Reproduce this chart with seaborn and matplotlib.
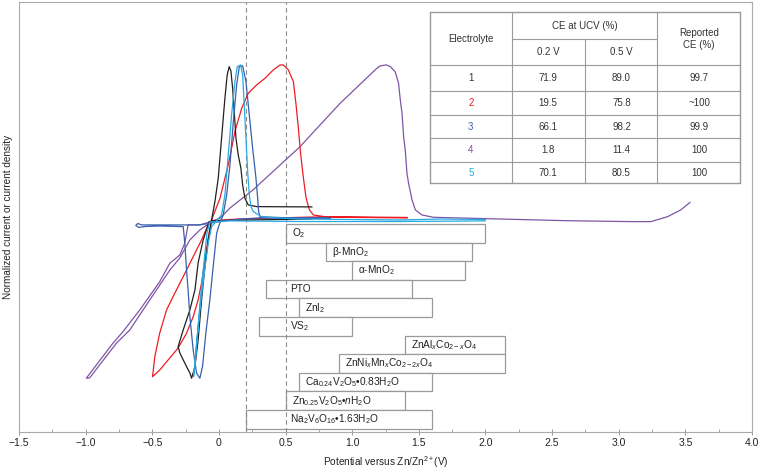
import matplotlib
matplotlib.use('Agg')
import matplotlib.pyplot as plt
import pandas as pd
import seaborn as sns

# CV curves: potential (V vs Zn/Zn2+) and normalized current
v1 = [0.699, 0.459, 0.233, 0.045, -0.053, -0.075, -0.118, -0.156, -0.180, -0.218, -0.268, -0.306, -0.293,
      -0.243, -0.218, -0.205, -0.180, -0.156, -0.130, -0.105, -0.080, -0.055, -0.030, -0.005, 0.020, 0.045,
      0.062, 0.077, 0.090, 0.103, 0.115, 0.128, 0.145, 0.165, 0.178, 0.195, 0.220, 0.283, 0.699]
i1 = [0.006, 0.003, 0.0, -0.003, -0.006, -0.013, -0.129, -0.277, -0.452, -0.581, -0.710, -0.817, -0.858,
      -0.946, -0.987, -1.021, -0.946, -0.774, -0.516, -0.301, -0.129, 0.0, 0.118, 0.269, 0.527, 0.785,
      0.935, 0.989, 0.961, 0.850, 0.699, 0.527, 0.419, 0.334, 0.226, 0.140, 0.097, 0.086, 0.084]

v2 = [1.414, 1.060, 0.707, 0.308, 0.083, -0.053, -0.073, -0.130, -0.193, -0.268, -0.344, -0.393, -0.444,
      -0.481, -0.498, -0.444, -0.368, -0.306, -0.243, -0.193, -0.156, -0.130, -0.105, -0.080, -0.055, 0.008,
      0.070, 0.120, 0.171, 0.220, 0.283, 0.346, 0.408, 0.459, 0.483, 0.521, 0.559, 0.579, 0.596, 0.614,
      0.634, 0.654, 0.679, 0.709, 0.797, 1.060, 1.414]
i2 = [0.013, 0.016, 0.019, 0.010, 0.003, -0.006, -0.017, -0.129, -0.237, -0.366, -0.495, -0.581, -0.729,
      -0.882, -1.011, -0.968, -0.890, -0.826, -0.731, -0.624, -0.516, -0.406, -0.258, -0.116, 0.0, 0.140,
      0.355, 0.570, 0.721, 0.817, 0.871, 0.914, 0.968, 1.0, 1.0, 0.968, 0.892, 0.742, 0.594, 0.419,
      0.271, 0.142, 0.065, 0.032, 0.021, 0.019, 0.016]

v3 = [0.835, 0.534, 0.308, 0.158, 0.008, -0.143, -0.444, -0.579, -0.609, -0.624, -0.602, -0.549, -0.444,
      -0.268, -0.256, -0.243, -0.231, -0.218, -0.193, -0.168, -0.143, -0.123, -0.098, -0.068, -0.043,
      -0.017, 0.002, 0.032, 0.058, 0.083, 0.108, 0.133, 0.153, 0.178, 0.203, 0.228, 0.253, 0.278, 0.291,
      0.298, 0.308, 0.534, 0.835]
i3 = [0.010, 0.010, 0.013, 0.006, -0.010, -0.032, -0.032, -0.032, -0.023, -0.035, -0.048, -0.042, -0.039,
      -0.043, -0.148, -0.323, -0.452, -0.624, -0.839, -0.987, -1.021, -0.946, -0.729, -0.516, -0.301,
      -0.086, -0.032, 0.032, 0.161, 0.355, 0.634, 0.871, 0.989, 0.995, 0.892, 0.677, 0.463, 0.269, 0.140,
      0.054, 0.021, 0.013, 0.013]

v4 = [3.536, 3.466, 3.366, 3.241, 3.115, 2.614, 2.113, 1.611, 1.524, 1.474, 1.449, 1.423, 1.411, 1.398,
      1.386, 1.374, 1.361, 1.348, 1.323, 1.286, 1.256, 1.211, 1.186, 0.910, 0.759, 0.609, 0.256, 0.083,
      0.008, -0.068, -0.143, -0.231, -0.243, -0.256, -0.293, -0.368, -0.444, -0.594, -0.720, -0.795,
      -0.995, -0.970, -0.769, -0.669, -0.519, -0.368, -0.293, -0.218, -0.143, -0.068]
i4 = [0.114, 0.065, 0.021, -0.011, -0.011, -0.005, 0.006, 0.017, 0.032, 0.065, 0.129, 0.237, 0.301, 0.452,
      0.537, 0.688, 0.774, 0.882, 0.955, 0.990, 1.0, 0.994, 0.979, 0.753, 0.613, 0.473, 0.194, 0.077,
      0.011, -0.013, -0.032, -0.032, -0.086, -0.150, -0.226, -0.279, -0.398, -0.581, -0.721, -0.795,
      -1.021, -1.019, -0.795, -0.710, -0.516, -0.323, -0.245, -0.129, -0.065, -0.019]

v5 = [2.0, 1.662, 1.361, 0.985, 0.609, 0.323, 0.258, 0.241, 0.228, 0.216, 0.203, 0.190, 0.178, 0.163,
      0.138, 0.120, 0.095, 0.070, 0.045, 0.020, -0.055, -0.080, -0.110, -0.140, -0.165, -0.182, -0.190,
      -0.175, -0.160, -0.140, -0.115, -0.090, -0.068, 0.083, 0.609, 1.361, 2.0]
i5 = [0.003, 0.006, 0.0, 0.003, 0.006, 0.019, 0.054, 0.086, 0.161, 0.312, 0.527, 0.742, 0.935, 1.0,
      0.989, 0.892, 0.677, 0.419, 0.161, 0.032, -0.043, -0.148, -0.342, -0.559, -0.774, -0.946, -1.011,
      -0.882, -0.729, -0.516, -0.301, -0.086, -0.013, -0.006, -0.010, -0.010, -0.006]

# cathode working windows (V)
materials = ['O$_2$', 'β-MnO$_2$', 'α-MnO$_2$', 'PTO', 'ZnI$_2$', 'VS$_2$',
             'ZnAl$_\\mathit{x}$Co$_{2-\\mathit{x}}$O$_4$',
             'ZnNi$_\\mathit{x}$Mn$_\\mathit{x}$Co$_{2-2\\mathit{x}}$O$_4$',
             'Ca$_{0.24}$V$_2$O$_5$•0.83H$_2$O',
             'Zn$_{0.25}$V$_2$O$_5$•$\\mathit{n}$H$_2$O',
             'Na$_2$V$_6$O$_{16}$•1.63H$_2$O']
win_start = [0.5, 0.8, 1.0, 0.35, 0.6, 0.3, 1.4, 0.9, 0.6, 0.5, 0.2]
win_end = [2.0, 1.9, 1.85, 1.45, 1.6, 1.0, 2.15, 2.15, 1.6, 1.4, 1.6]

# inset table
electrolytes = ['1', '2', '3', '4', '5']
ce_02 = ['71.9', '19.5', '66.1', '1.8', '70.1']
ce_05 = ['89.0', '75.8', '98.2', '11.4', '80.5']
ce_reported = ['99.7', '~100', '99.9', '100', '100']

ucv_lines = [0.2, 0.5]
xticks = [-1.5, -1.0, -0.5, 0, 0.5, 1.0, 1.5, 2.0, 2.5, 3.0, 3.5, 4.0]

colors = {'1': '#231f20', '2': '#ed1c24', '3': '#3a5fae', '4': '#7f55a5', '5': '#27aae1'}
curves = {'4': (v4, i4), '2': (v2, i2), '1': (v1, i1), '3': (v3, i3), '5': (v5, i5)}

sns.set_theme(style='white')
plt.rcParams['font.family'] = ['Liberation Sans', 'DejaVu Sans']
plt.rcParams['mathtext.fontset'] = 'custom'
plt.rcParams['mathtext.rm'] = 'Liberation Sans'
plt.rcParams['mathtext.it'] = 'Liberation Sans:italic'
plt.rcParams['mathtext.default'] = 'regular'

fig = plt.figure(figsize=(7.6, 4.72), dpi=100)
ax = fig.add_axes([19 / 760, 40 / 472, 733 / 760, 430 / 472])

for key, (v, i) in curves.items():
    df = pd.DataFrame({'V': v, 'I': i})
    sns.lineplot(data=df, x='V', y='I', sort=False, estimator=None, color=colors[key],
                 lw=0.9, ax=ax, zorder=4)

# stability window bars
bar_h = 0.12
centers = [-0.086 - bar_h * k for k in range(len(materials))]
widths = [e - s for s, e in zip(win_start, win_end)]
ax.barh(centers, widths, left=win_start, height=bar_h, color='white',
        edgecolor='#9a9a9a', lw=0.9, zorder=2)
for name, s, c in zip(materials, win_start, centers):
    ax.text(max(s, 0.49) + 0.045, c, name, fontsize=7.3, color='#222222',
            ha='left', va='center', zorder=5)

for xv in ucv_lines:
    ax.axvline(xv, color='#8c8c8c', ls=(0, (4, 3)), lw=0.8, zorder=3)

ax.set_xlim(-1.5, 4.0)
ax.set_ylim(-1.368, 1.406)
ax.set_xticks(xticks)
ax.set_xticklabels([('%g' % t if t == 0 else '%.1f' % t).replace('-', '\u2212') for t in xticks])
ax.set_xticks([-1.25 + 0.5 * k for k in range(11)], minor=True)
ax.set_yticks([])
ax.tick_params(axis='x', which='major', direction='inout', length=5, width=0.7,
               colors='#999999', labelcolor='#222222', labelsize=7.5, pad=2, bottom=True)
ax.tick_params(axis='x', which='minor', direction='in', length=2.5, width=0.6,
               colors='#999999', bottom=True)
for sp in ax.spines.values():
    sp.set_color('#aaaaaa')
    sp.set_linewidth(0.8)
ax.set_xlabel('Potential versus Zn/Zn$^{2+}$(V)', fontsize=7.2, color='#222222', labelpad=4)
ax.set_ylabel('')
fig.text(8 / 760, 1 - 217 / 472, 'Normalized current or current density', rotation=90,
         ha='center', va='center', fontsize=7.2, color='#222222')


# inset table, laid out in pixel positions of the figure
def P(xp, yp):
    return ((xp - 19) / 733, (432 - yp) / 430)


def hline(y, x0, x1, lw=0.8):
    a, b = P(x0, y), P(x1, y)
    ax.plot([a[0], b[0]], [a[1], b[1]], color='#9a9a9a', lw=lw, transform=ax.transAxes,
            clip_on=False, zorder=6)


def vline(x, y0, y1, lw=0.8):
    a, b = P(x, y0), P(x, y1)
    ax.plot([a[0], b[0]], [a[1], b[1]], color='#9a9a9a', lw=lw, transform=ax.transAxes,
            clip_on=False, zorder=6)


def cell(x, y, s, color='#333333'):
    px, py = P(x, y)
    ax.text(px, py, s, transform=ax.transAxes, ha='center', va='center', fontsize=7,
            color=color, zorder=7, linespacing=1.25)


tx0, tx1, ty0, ty1 = 430, 740, 12.3, 183
hline(ty0, tx0, tx1, 1.0)
hline(ty1, tx0, tx1, 1.0)
vline(tx0, ty0, ty1, 1.0)
vline(tx1, ty0, ty1, 1.0)
hline(39, 511.7, 657.3)
for yy in [65, 91, 115, 138, 162]:
    hline(yy, tx0, tx1)
vline(511.7, ty0, ty1)
vline(657.3, ty0, ty1)
vline(585, 39, ty1)

cell(470.8, 39.3, 'Electrolyte')
cell(585, 26, 'CE at UCV (%)')
cell(548, 52, '0.2 V')
cell(621.5, 52, '0.5 V')
cell(699, 38.8, 'Reported\nCE (%)')
row_y = [78, 103, 126.5, 150, 172.5]
for k, ry in enumerate(row_y):
    cell(470.8, ry, electrolytes[k], colors[electrolytes[k]] if k > 0 else '#333333')
    cell(548, ry, ce_02[k])
    cell(621.5, ry, ce_05[k])
    cell(699, ry, ce_reported[k])

fig.savefig('out.png', dpi=100)
